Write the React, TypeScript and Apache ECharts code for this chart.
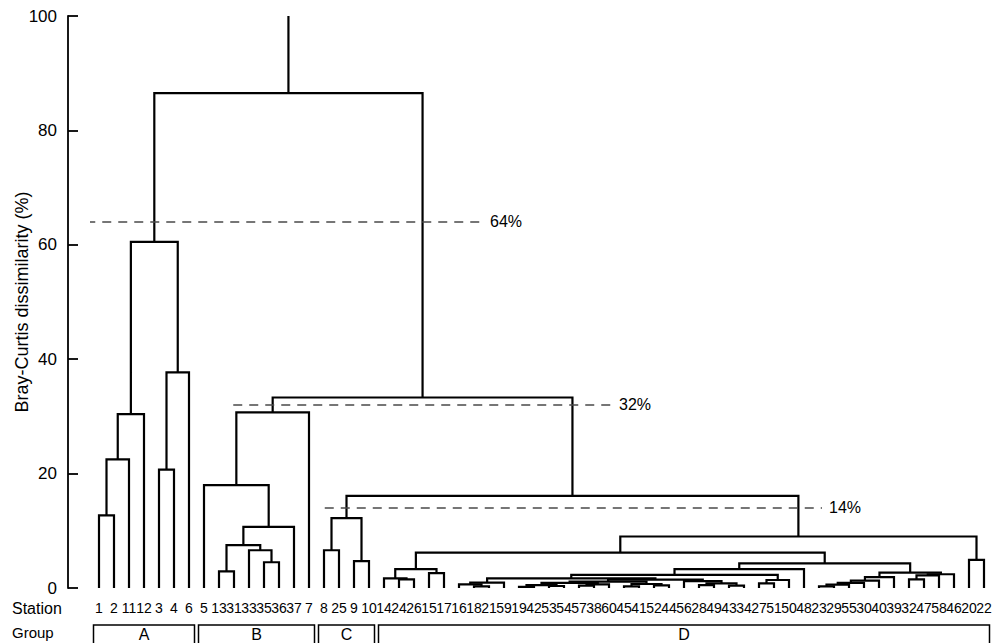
import { useEffect, useRef } from "react";
import * as echarts from "echarts";

// Leaf order of the dendrogram (station numbers, left to right)
const STATIONS = [
  1, 2, 11, 12, 3, 4, 6,
  5, 13, 31, 33, 35, 36, 37, 7,
  8, 25, 9, 10,
  14, 24, 26, 15, 17, 16, 18, 21, 59, 19, 42, 53, 54, 57, 38, 60, 45, 41, 52, 44,
  56, 28, 49, 43, 34, 27, 51, 50, 48, 23, 29, 55, 30, 40, 39, 32, 47, 58, 46, 20, 22,
];

// Agglomeration steps: [node id, left child, right child, dissimilarity %]
// Children are station numbers or ids of earlier nodes.
type Child = number | string;
const MERGES_A: [string, Child, Child, number][] = [
  ["a1", 1, 2, 12.7],
  ["a2", "a1", 11, 22.5],
  ["a3", "a2", 12, 30.4],
  ["a4", 3, 4, 20.7],
  ["a5", "a4", 6, 37.7],
  ["A", "a3", "a5", 60.5],
];
const MERGES_B: [string, Child, Child, number][] = [
  ["b1", 13, 31, 2.9],
  ["b2", 35, 36, 4.5],
  ["b3", 33, "b2", 6.6],
  ["b4", "b1", "b3", 7.5],
  ["b5", "b4", 37, 10.7],
  ["b6", 5, "b5", 18.0],
  ["B", "b6", 7, 30.7],
];
const MERGES_C: [string, Child, Child, number][] = [
  ["c1", 8, 25, 6.6],
  ["c2", 9, 10, 4.7],
  ["C", "c1", "c2", 12.2],
];
const MERGES_D: [string, Child, Child, number][] = [
  ["d1", 24, 26, 1.5],
  ["d2", 14, "d1", 1.7],
  ["d3", 15, 17, 2.6],
  ["d4", "d2", "d3", 3.3],
  ["d5", 18, 21, 0.3],
  ["d6", 16, "d5", 0.65],
  ["d7", "d6", 59, 0.95],
  ["d8", 19, 42, 0.2],
  ["d9", 53, 54, 0.35],
  ["d10", "d8", "d9", 0.5],
  ["d11", 57, 38, 0.4],
  ["d12", "d11", 60, 0.65],
  ["d13", "d10", "d12", 0.9],
  ["d14", 45, 41, 0.3],
  ["d15", 52, 44, 0.45],
  ["d16", "d14", "d15", 0.7],
  ["d17", "d13", "d16", 1.1],
  ["d18", 28, 49, 0.5],
  ["d19", 43, 34, 0.4],
  ["d20", "d18", "d19", 0.8],
  ["d21", 56, "d20", 1.2],
  ["d22", "d17", "d21", 1.45],
  ["d23", "d7", "d22", 1.7],
  ["d24", 27, 51, 0.8],
  ["d25", "d24", 50, 1.4],
  ["d26", "d23", "d25", 2.3],
  ["d27", "d26", 48, 3.3],
  ["d28", 23, 29, 0.3],
  ["d29", "d28", 55, 0.6],
  ["d30", "d29", 30, 0.9],
  ["d31", "d30", 40, 1.3],
  ["d32", "d31", 39, 1.9],
  ["d33", 32, 47, 1.5],
  ["d34", "d33", 58, 2.2],
  ["d35", "d34", 46, 2.4],
  ["d36", "d32", "d35", 2.7],
  ["d37", "d27", "d36", 4.3],
  ["d38", "d4", "d37", 6.2],
  ["d39", 20, 22, 4.9],
  ["D", "d38", "d39", 9.0],
];
const MERGES_TOP: [string, Child, Child, number][] = [
  ["CD", "C", "D", 16.1],
  ["BCD", "B", "CD", 33.3],
  ["root", "A", "BCD", 86.5],
];
const ROOT_STEM_TOP = 100;

// Cut levels drawn as dashed lines
const CUT_LEVELS = [64, 32, 14];
const CUT_LABELS = ["64%", "32%", "14%"];
// Horizontal extent of each cut line, in leaf-position units
const CUT_SPANS = [
  [-0.85, 25.6],
  [8.95, 34.2],
  [15.05, 48.2],
];

// Station groups: name, first and last station of each
const GROUP_NAMES = ["A", "B", "C", "D"];
const GROUP_FIRST = [1, 5, 8, 14];
const GROUP_LAST = [6, 7, 10, 22];

const FONT = "'Liberation Sans', Arial, sans-serif";
const NARROW = "'Liberation Sans Narrow', 'Liberation Sans', sans-serif";

function buildLinks() {
  const pos = new Map<string, { x: number; h: number }>();
  STATIONS.forEach((s, i) => pos.set(String(s), { x: i, h: 0 }));
  const links: { coords: number[][] }[] = [];
  const all = [...MERGES_A, ...MERGES_B, ...MERGES_C, ...MERGES_D, ...MERGES_TOP];
  for (const [id, l, r, h] of all) {
    const a = pos.get(String(l))!;
    const b = pos.get(String(r))!;
    links.push({ coords: [[a.x, a.h], [a.x, h], [b.x, h], [b.x, b.h]] });
    pos.set(id, { x: (a.x + b.x) / 2, h });
  }
  const root = pos.get("root")!;
  links.push({ coords: [[root.x, root.h], [root.x, ROOT_STEM_TOP]] });
  return links;
}

export default function App() {
  const ref = useRef<HTMLDivElement>(null);

  useEffect(() => {
    if (!ref.current) return;
    const chart = echarts.init(ref.current, undefined, { renderer: "svg" });

    const option: any = {
      animation: false,
      backgroundColor: "#ffffff",
      textStyle: { fontFamily: FONT },
      grid: {
        left: 91.5,
        right: 3.5,
        top: 16,
        bottom: 55,
        containLabel: false,
        outerBoundsMode: "none",
      },
      xAxis: [
        { type: "value", min: -0.5, max: STATIONS.length - 0.5, show: false },
        {
          type: "category",
          position: "bottom",
          data: STATIONS.map(String),
          boundaryGap: true,
          axisLine: { show: false },
          axisTick: { show: false },
          axisLabel: {
            interval: 0,
            margin: 13,
            fontSize: 14,
            color: "#000",
            fontFamily: NARROW,
          },
        },
      ],
      yAxis: {
        type: "value",
        min: 0,
        max: 100,
        interval: 20,
        offset: 23.5,
        name: "Bray-Curtis dissimilarity (%)",
        nameLocation: "middle",
        nameGap: 37,
        nameMoveOverlap: false,
        nameTextStyle: { fontSize: 18, color: "#000", fontFamily: FONT },
        axisLine: { show: true, onZero: false, lineStyle: { color: "#000", width: 1.8 } },
        axisTick: { show: true, inside: true, length: 10, lineStyle: { color: "#000", width: 1.8 } },
        axisLabel: { fontSize: 17, color: "#000", margin: 11, fontFamily: FONT },
        splitLine: { show: false },
      },
      series: [
        {
          type: "lines",
          coordinateSystem: "cartesian2d",
          xAxisIndex: 0,
          yAxisIndex: 0,
          polyline: true,
          silent: true,
          lineStyle: { color: "#000", width: 2.2, opacity: 1 },
          data: buildLinks(),
        },
        {
          type: "lines",
          coordinateSystem: "cartesian2d",
          xAxisIndex: 0,
          yAxisIndex: 0,
          silent: true,
          lineStyle: { color: "#4a4a4a", width: 1.6, type: [9, 7], opacity: 1 },
          label: {
            show: true,
            position: "end",
            distance: 7,
            formatter: "{b}",
            fontSize: 16,
            color: "#000",
            fontFamily: FONT,
          },
          data: CUT_LEVELS.map((v, k) => ({
            name: CUT_LABELS[k],
            coords: [
              [CUT_SPANS[k][0], v],
              [CUT_SPANS[k][1], v],
            ],
          })),
        },
      ],
    };
    chart.setOption(option);

    // Row titles and group boxes below the station labels
    const boxTop = 625;
    const graphics: any[] = [
      {
        type: "text",
        x: 12,
        y: 608,
        style: { text: "Station", fill: "#000", font: `16px ${FONT}`, verticalAlign: "middle" },
      },
      {
        type: "text",
        x: 12,
        y: 632,
        style: { text: "Group", fill: "#000", font: `15px ${FONT}`, verticalAlign: "middle" },
      },
    ];
    GROUP_NAMES.forEach((g, k) => {
      const i0 = STATIONS.indexOf(GROUP_FIRST[k]);
      const i1 = STATIONS.indexOf(GROUP_LAST[k]);
      const x0 = (chart.convertToPixel({ xAxisIndex: 0 }, i0 - 0.5) as number) + 2;
      const x1 = (chart.convertToPixel({ xAxisIndex: 0 }, i1 + 0.5) as number) - 2;
      graphics.push({
        type: "rect",
        shape: { x: x0, y: boxTop, width: x1 - x0, height: 30 },
        style: { fill: "none", stroke: "#000", lineWidth: 1.5 },
      });
      graphics.push({
        type: "text",
        x: (x0 + x1) / 2,
        y: boxTop + 9,
        style: {
          text: g,
          font: `16px ${FONT}`,
          fill: "#000",
          align: "center",
          verticalAlign: "middle",
        },
      });
    });
    chart.setOption({ graphic: graphics });

    return () => chart.dispose();
  }, []);

  return (
    <div
      ref={ref}
      style={{ position: "fixed", left: 0, top: 0, width: 995, height: 643 }}
    />
  );
}
